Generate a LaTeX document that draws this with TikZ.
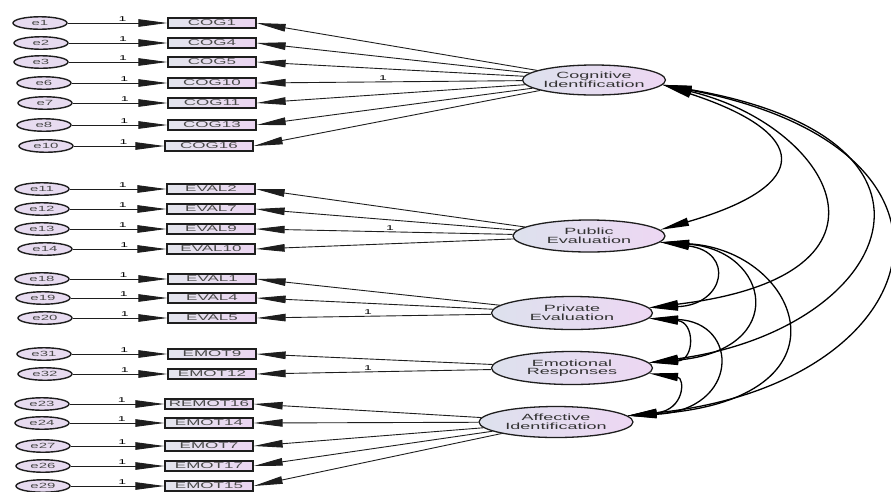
\documentclass[tikz,border=0pt]{standalone}
\usepackage{fontspec}
\setmainfont{Liberation Sans}
\newfontfamily\amosfont[FakeStretch=2.0]{Liberation Sans}
\usetikzlibrary{arrows.meta,shapes.geometric}
\definecolor{boxL}{HTML}{E3E5ED}
\definecolor{boxR}{HTML}{EBD5F1}
\definecolor{latL}{HTML}{DDE1ED}
\definecolor{latR}{HTML}{EDD7F3}
\definecolor{errfill}{HTML}{E7DBF0}
\definecolor{txtgrey}{HTML}{4A4A4A}
\definecolor{txtdark}{HTML}{333333}
\definecolor{edge}{HTML}{1E1E1E}
\tikzset{
  boxnode/.style={rectangle, draw=edge, line width=1.3pt, minimum width=88pt,
    minimum height=10pt, inner sep=0pt, left color=boxL, right color=boxR,
    text=txtgrey, font=\amosfont\fontsize{8.5}{9}\selectfont},
  errnode/.style={ellipse, draw=edge, line width=1.4pt, minimum width=54pt,
    minimum height=12.5pt, inner sep=0pt, fill=errfill, text=txtgrey,
    font=\amosfont\fontsize{7.5}{8}\selectfont},
  latnode/.style={ellipse, draw=edge, line width=1.3pt, inner sep=0pt,
    left color=latL, right color=latR, align=center, text=txtdark,
    font=\amosfont\fontsize{9}{8.5}\selectfont},
  epath/.style={draw=edge, line width=0.9pt, -{Triangle[length=29pt,width=7.5pt]}},
  lpath/.style={draw=edge, line width=0.9pt, -{Triangle[length=29pt,width=7.5pt]}},
  cov/.style={draw=black, line width=1.3pt,
    {Triangle[length=29pt,width=8pt]}-{Triangle[length=29pt,width=8pt]}},
  onelbl/.style={above, inner sep=1.2pt, text=black, font=\amosfont\fontsize{7}{7}\selectfont}
}
\begin{document}
\begin{tikzpicture}[x=1pt,y=-1pt]
\useasboundingbox (0,0) rectangle (891,491);
\fill[white] (0,0) rectangle (891,491);

% error terms, indicators and their paths
\foreach \e/\ex/\b/\bx/\y in {
  e1/40/COG1/212/23, e2/41/COG4/212/43, e3/41/COG5/212/62, e6/44/COG10/212/83,
  e7/45/COG11/212/103, e8/44/COG13/212/125, e10/46/COG16/209/146,
  e11/42/EVAL2/211/189, e12/42/EVAL7/211/209, e13/42/EVAL9/211/229, e14/45/EVAL10/211/249,
  e18/42/EVAL1/212/279, e19/43/EVAL4/212/298, e20/45/EVAL5/212/318,
  e31/44/EMOT9/212/354, e32/45/EMOT12/212/374,
  e23/42/REMOT16/209/404, e24/42/EMOT14/209/423, e27/43/EMOT7/209/446,
  e26/43/EMOT17/209/466, e29/43/EMOT15/209/486}{
  \node[errnode] (\e) at (\ex,\y) {\e};
  \node[boxnode] (\b) at (\bx,\y) {\b};
  \draw[epath] (\e) -- node[onelbl,pos=0.55]{1} (\b);
}

% latent variables
\node[latnode, minimum width=136pt, minimum height=30pt] (cog) at (594,80) {Cognitive\\Identification};
\node[latnode, minimum width=152pt, minimum height=32pt] (pub) at (589,236) {Public\\Evaluation};
\node[latnode, minimum width=161pt, minimum height=33pt] (priv) at (572,313) {Private\\Evaluation};
\node[latnode, minimum width=161pt, minimum height=33pt] (emo) at (572,368) {Emotional\\Responses};
\node[latnode, minimum width=154pt, minimum height=31pt] (aff) at (556,422) {Affective\\Identification};

% loadings
\foreach \b in {COG1,COG4,COG5,COG11,COG13,COG16} \draw[lpath] (cog) -- (\b.east);
\draw[lpath] (cog) -- node[onelbl,pos=0.524]{1} (COG10.east);
\foreach \b in {EVAL2,EVAL7,EVAL10} \draw[lpath] (pub) -- (\b.east);
\draw[lpath] (pub) -- node[onelbl,pos=0.477]{1} (EVAL9.east);
\foreach \b in {EVAL1,EVAL4} \draw[lpath] (priv) -- (\b.east);
\draw[lpath] (priv) -- node[onelbl,pos=0.525]{1} (EVAL5.east);
\draw[lpath] (emo) -- (EMOT9.east);
\draw[lpath] (emo) -- node[onelbl,pos=0.525]{1} (EMOT12.east);
\foreach \b in {REMOT16,EMOT14,EMOT7,EMOT17,EMOT15} \draw[lpath] (aff) -- (\b.east);

% covariances
\draw[cov] (cog.-4) .. controls (810,133) and (815,185) .. (pub.5);
\draw[cov] (cog.-4) .. controls (830,125) and (920,275) .. (priv.4);
\draw[cov] (cog.-4) .. controls (980,140) and (890,330) .. (emo.4);
\draw[cov] (cog.-4) .. controls (1000,150) and (930,385) .. (aff.5);
\draw[cov] (pub.-5) .. controls (735,252) and (725,305) .. (priv.4);
\draw[cov] (pub.-5) .. controls (770,250) and (790,350) .. (emo.4);
\draw[cov] (pub.-5) .. controls (800,250) and (860,400) .. (aff.5);
\draw[cov] (priv.-4) .. controls (695,322) and (695,360) .. (emo.4);
\draw[cov] (priv.-4) .. controls (740,322) and (740,410) .. (aff.5);
\draw[cov] (emo.-4) .. controls (685,378) and (685,410) .. (aff.5);
\end{tikzpicture}
\end{document}
